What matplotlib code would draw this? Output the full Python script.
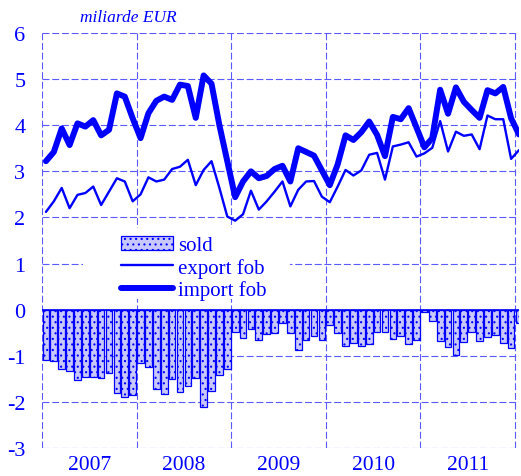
import numpy as np
import matplotlib
matplotlib.use('Agg')
from matplotlib import pyplot as plt
from matplotlib.patches import Rectangle

# lunar, ian 2007 - ian 2012
years = ['2007', '2008', '2009', '2010', '2011']
export_fob = [2.12, 2.35, 2.64, 2.20, 2.49, 2.53, 2.67, 2.27, 2.56, 2.85, 2.78, 2.35,
              2.50, 2.87, 2.78, 2.82, 3.05, 3.10, 3.25, 2.70, 3.03, 3.22, 2.64, 2.02,
              1.93, 2.07, 2.58, 2.17, 2.35, 2.56, 2.78, 2.24, 2.60, 2.78, 2.79, 2.45,
              2.33, 2.67, 3.03, 2.91, 3.02, 3.36, 3.40, 2.82, 3.54, 3.58, 3.63, 3.32,
              3.39, 3.51, 4.09, 3.43, 3.86, 3.77, 3.80, 3.48, 4.21, 4.13, 4.13, 3.27,
              3.46]
import_fob = [3.22, 3.42, 3.93, 3.57, 4.04, 3.97, 4.11, 3.78, 3.90, 4.69, 4.62, 4.15,
              3.72, 4.26, 4.53, 4.62, 4.55, 4.88, 4.85, 4.16, 5.08, 4.90, 4.00, 3.22,
              2.44, 2.78, 3.00, 2.85, 2.90, 3.05, 3.12, 2.78, 3.50, 3.42, 3.34, 3.02,
              2.70, 3.15, 3.78, 3.68, 3.85, 4.08, 3.79, 3.33, 4.18, 4.13, 4.37, 3.95,
              3.52, 3.72, 4.77, 4.25, 4.82, 4.51, 4.33, 4.16, 4.76, 4.69, 4.83, 4.15,
              3.80]
sold = [-1.10, -1.11, -1.28, -1.33, -1.52, -1.45, -1.45, -1.49, -1.38, -1.81, -1.89, -1.86,
        -1.16, -1.25, -1.71, -1.82, -1.50, -1.78, -1.65, -1.49, -2.10, -1.76, -1.42, -1.29,
        -0.48, -0.62, -0.41, -0.66, -0.53, -0.50, -0.29, -0.50, -0.87, -0.66, -0.57, -0.66,
        -0.33, -0.50, -0.78, -0.72, -0.78, -0.74, -0.48, -0.48, -0.64, -0.58, -0.75, -0.66,
        -0.05, -0.24, -0.67, -0.80, -0.98, -0.71, -0.48, -0.69, -0.60, -0.56, -0.72, -0.83,
        -0.29]
yticks = list(range(-3, 7))

blue = '#0000ff'
gridc = '#5a5aff'
plt.rcParams['font.family'] = ['Liberation Serif', 'DejaVu Serif']
plt.rcParams['hatch.linewidth'] = 0.8
plt.rcParams['lines.scale_dashes'] = False

x = np.arange(len(sold)) + 0.5

fig = plt.figure(dpi=100, figsize=(5.21, 4.77))
ax = fig.add_axes([42/521, 28/477, 477/521, 415/477])

b = ax.bar(x, sold, width=0.85, facecolor='#c8c8ff', edgecolor=blue, hatch='...',
           linewidth=0.9, label='sold', zorder=2)
l1, = ax.plot(x, export_fob, color=blue, lw=1.7, label='export fob', zorder=4,
              solid_joinstyle='round', solid_capstyle='round')
l2, = ax.plot(x, import_fob, color=blue, lw=4.3, label='import fob', zorder=5,
              solid_joinstyle='round', solid_capstyle='round')
ax.axhline(0, color=blue, lw=1.2, zorder=3)

ax.set_xlim(0, 60.5)
ax.set_ylim(-3, 6)
ax.set_xticks(np.arange(0, 61, 12))
ax.set_xticklabels([])
ax.set_xticks(np.arange(6, 60, 12), minor=True)
ax.set_xticklabels(years, minor=True)
ax.set_yticks(yticks)
ax.set_yticklabels([str(t) for t in yticks])
ax.tick_params(axis='both', which='both', length=0, colors=blue, labelsize=16)
ax.tick_params(axis='y', pad=12)
ax.tick_params(axis='x', which='minor', pad=5, labelsize=15.5)
for s in ax.spines.values():
    s.set_visible(False)
ax.set_axisbelow(True)
ax.grid(True, color=gridc, lw=0.8, linestyle=(0, (5, 2)))

# fond alb sub legenda
ax.add_patch(Rectangle((0.086, 0.36), 0.434, 0.17, transform=ax.transAxes,
                       facecolor='white', edgecolor='none', zorder=1.5))
ax.legend([b, l1, l2], ['sold', 'export fob', 'import fob'],
          loc='upper left', bbox_to_anchor=(0.135, 0.547), frameon=False,
          fontsize=15, handlelength=2.5, handletextpad=0.25, labelspacing=0.12,
          borderpad=0.2, labelcolor=blue)

ax.text(0.08, 1.02, 'miliarde EUR', transform=ax.transAxes, color=blue,
        fontsize=12.5, style='italic', va='bottom')

fig.savefig('out.png', dpi=100)
